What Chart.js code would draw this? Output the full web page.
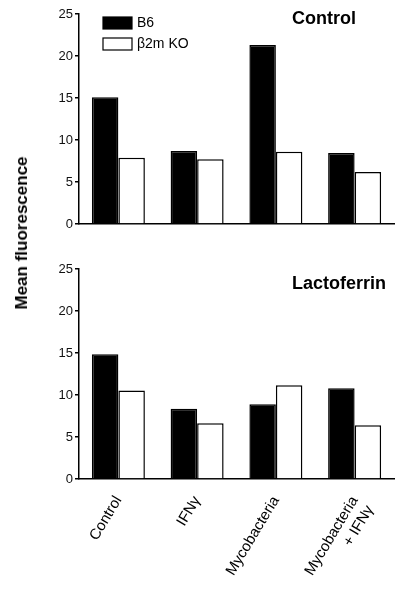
<!DOCTYPE html>
<html>
<head>
<meta charset="utf-8">
<script src="https://cdn.jsdelivr.net/npm/chart.js@4"></script>
<style>
  body { margin: 0; background: #fff; }
  #wrap { position: relative; width: 396px; height: 593px; }
  canvas { position: absolute; left: 0; }
  #ytitle {
    position: absolute; left: 22px; top: 233px;
    transform: translate(-50%, -50%) rotate(-90deg);
    font: bold 17px "Liberation Sans", Arial, sans-serif;
    white-space: nowrap; color: #000;
  }
</style>
</head>
<body>
<div id="wrap">
  <canvas id="chartTop" width="396" height="240" style="top:0"></canvas>
  <canvas id="chartBottom" width="396" height="343" style="top:250px"></canvas>
  <div id="ytitle">Mean fluorescence</div>
</div>
<script>
var categories = ["Control", "IFNγ", "Mycobacteria", ["Mycobacteria", "+ IFNγ"]];
var seriesNames = ["B6", "β2m KO"];
var yTicks = [0, 5, 10, 15, 20, 25];

// top panel - Control
var b6Control = [15.1, 8.7, 21.3, 8.45];
var koControl = [7.9, 7.7, 8.6, 6.2];

// bottom panel - Lactoferrin
var b6Lacto = [14.85, 8.35, 8.9, 10.8];
var koLacto = [10.55, 6.65, 11.15, 6.4];

var FONT = "'Liberation Sans', Arial, sans-serif";

// draws panel title + (optional) legend inside the chart area
var panelDeco = {
    id: 'panelDeco',
    afterDraw: function(chart, args, opts) {
        var ctx = chart.ctx;
        ctx.save();
        ctx.fillStyle = '#000';
        ctx.font = 'bold 18px ' + FONT;
        ctx.textAlign = 'left';
        ctx.textBaseline = 'alphabetic';
        ctx.fillText(opts.title, opts.titleX, opts.titleY);
        if (opts.legend) {
            ctx.font = '14px ' + FONT;
            ctx.textBaseline = 'middle';
            chart.data.datasets.forEach(function(ds, i) {
                var y = 17 + i * 21;
                ctx.fillStyle = ds.backgroundColor;
                ctx.fillRect(103, y, 29, 12);
                ctx.strokeStyle = '#000';
                ctx.lineWidth = 1.2;
                ctx.strokeRect(103, y, 29, 12);
                ctx.fillStyle = '#000';
                ctx.fillText(ds.label, 137, y + 6.5);
            });
        }
        ctx.restore();
    }
};

function makeChart(id, b6, ko, title, titleY, legend, padTop, xHeight, showX) {
    return new Chart(document.getElementById(id), {
        type: 'bar',
        data: {
            labels: categories,
            datasets: [
                { label: seriesNames[0], data: b6, backgroundColor: '#000', borderColor: '#000', borderWidth: 1.5 },
                { label: seriesNames[1], data: ko, backgroundColor: '#fff', borderColor: '#000', borderWidth: 1.5 }
            ]
        },
        options: {
            responsive: false,
            animation: false,
            layout: { padding: { top: padTop, right: 2, left: 0, bottom: 0 } },
            datasets: { bar: { categoryPercentage: 0.673, barPercentage: 1.0 } },
            plugins: {
                legend: { display: false },
                tooltip: { enabled: false },
                panelDeco: { title: title, titleX: 292, titleY: titleY, legend: legend }
            },
            scales: {
                x: {
                    grid: { display: false },
                    border: { display: true, color: '#000', width: 1.5 },
                    ticks: {
                        display: showX,
                        color: '#000',
                        font: { family: FONT, size: 15 },
                        minRotation: 59, maxRotation: 59,
                        padding: 6
                    },
                    afterFit: function(s) { s.height = xHeight; }
                },
                y: {
                    min: 0, max: 25,
                    afterBuildTicks: function(s) { s.ticks = yTicks.map(function(v) { return { value: v }; }); },
                    grid: { drawOnChartArea: false, drawTicks: true, tickLength: 4, color: '#000', lineWidth: 1.5 },
                    border: { display: true, color: '#000', width: 1.5 },
                    ticks: { color: '#111', font: { family: FONT, size: 13 }, padding: 2 },
                    afterFit: function(s) { s.width = 79; }
                }
            }
        },
        plugins: [panelDeco]
    });
}

makeChart('chartTop', b6Control, koControl, 'Control', 24, true, 14, 16, false);
makeChart('chartBottom', b6Lacto, koLacto, 'Lactoferrin', 39, false, 19, 114, true);
</script>
</body>
</html>
